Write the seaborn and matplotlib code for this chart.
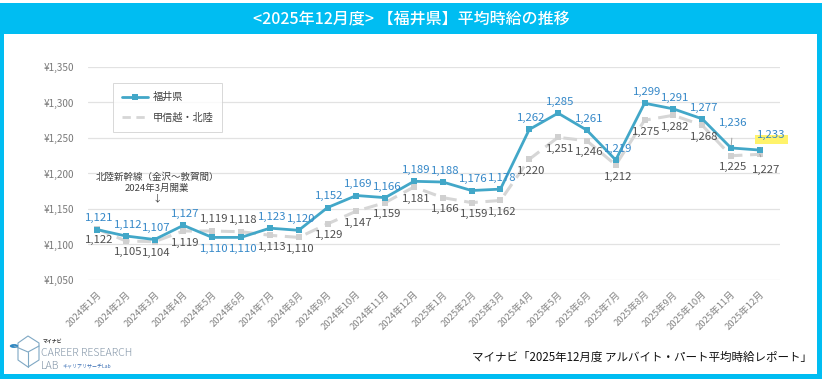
import matplotlib
matplotlib.use("Agg")
import matplotlib.pyplot as plt
import seaborn as sns
import pandas as pd
from matplotlib.patches import Rectangle, Circle, Polygon
from matplotlib.lines import Line2D

# ---------------- data ----------------
months = ["2024年1月", "2024年2月", "2024年3月", "2024年4月", "2024年5月", "2024年6月",
          "2024年7月", "2024年8月", "2024年9月", "2024年10月", "2024年11月", "2024年12月",
          "2025年1月", "2025年2月", "2025年3月", "2025年4月", "2025年5月", "2025年6月",
          "2025年7月", "2025年8月", "2025年9月", "2025年10月", "2025年11月", "2025年12月"]
fukui = [1121, 1112, 1107, 1127, 1110, 1110, 1123, 1120, 1152, 1169, 1166, 1189,
         1188, 1176, 1178, 1262, 1285, 1261, 1219, 1299, 1291, 1277, 1236, 1233]
koshinetsu = [1122, 1105, 1104, 1119, 1119, 1118, 1113, 1110, 1129, 1147, 1159, 1181,
              1166, 1159, 1162, 1220, 1251, 1246, 1212, 1275, 1282, 1268, 1225, 1227]
series_names = ["福井県", "甲信越・北陸"]
yticks = [1050, 1100, 1150, 1200, 1250, 1300, 1350]
title = "<2025年12月度> 【福井県】平均時給の推移"
note = "北陸新幹線（金沢～敦賀間）\n2024年3月開業\n↓"
source = "マイナビ「2025年12月度 アルバイト・パート平均時給レポート」"

# label placement (layout only): +1 above, -1 below
fukui_pos = [1, 1, 1, 1, -1, -1, 1, 1, 1, 1, 1, 1, 1, 1, 1, 1, 1, 1, 1, 1, 1, 1, 1, 1]
kosh_pos = [-1, -1, -1, -1, 1, 1, -1, -1, -1, -1, -1, -1, -1, -1, -1, -1, -1, -1, -1, -1, -1, -1, -1, -1]

BLUE = "#42A7C8"
BLUE_TXT = "#3588C8"
GRAY = "#D6D6D6"
GRAY_TXT = "#505050"
CYAN = "#00BDF2"
LBL = 8.2

sns.set_theme(style="white")
plt.rcParams['font.family'] = ['Noto Sans CJK JP', 'DejaVu Sans']

W, H = 822, 379
fig = plt.figure(figsize=(W / 100, H / 100), dpi=100)
fig.patch.set_facecolor("white")

def fx(px):
    return px / W

def fy(py):
    return 1 - py / H

# frame
fig.patches.append(Rectangle((0, 0), 1, 1, transform=fig.transFigure,
                             facecolor=CYAN, edgecolor="none", zorder=-10))
fig.patches.append(Rectangle((fx(4), fy(374)), fx(817) - fx(4), fy(34) - fy(374),
                             transform=fig.transFigure, facecolor="white",
                             edgecolor="none", zorder=-9))
fig.patches.append(Rectangle((0, fy(3)), 1, 1 - fy(3), transform=fig.transFigure,
                             facecolor="white", edgecolor="none", zorder=-9))
fig.text(0.5, fy(18.5), title, color="white", fontsize=11.5, ha="center", va="center",
         fontweight="medium")

# axes
ax = fig.add_axes([fx(88), fy(280), fx(780) - fx(88), fy(67) - fy(280)])
ax.set_facecolor("none")

df = pd.DataFrame({
    "idx": list(range(len(months))) * 2,
    "value": fukui + koshinetsu,
    "series": [series_names[0]] * len(months) + [series_names[1]] * len(months),
})

sns.lineplot(data=df[df.series == series_names[1]], x="idx", y="value", ax=ax,
             color=GRAY, linewidth=2.2, linestyle=(0, (4.5, 2.5)), marker="s",
             markersize=4, markeredgewidth=0, markerfacecolor="#D0D0D0",
             legend=False, zorder=3)
sns.lineplot(data=df[df.series == series_names[0]], x="idx", y="value", ax=ax,
             color=BLUE, linewidth=2.0, marker="s", markersize=5,
             markeredgewidth=0, markerfacecolor=BLUE, legend=False, zorder=4)

ax.set_xlim(-0.31, 23.7)
ax.set_ylim(1050, 1350)
ax.set_yticks(yticks)
ax.set_yticklabels([f"¥{v:,}" for v in yticks])
ax.set_xticks(range(len(months)))
ax.set_xticklabels(months, rotation=45, ha="right", rotation_mode="anchor")
ax.tick_params(axis="y", length=0, pad=10, labelsize=7.2, labelcolor="#7A7A7A")
ax.tick_params(axis="x", length=0, pad=7, labelsize=6.8, labelcolor="#858585")
ax.grid(axis="y", color="#E2E2E2", linewidth=0.9)
ax.grid(axis="x", visible=False)
for s in ax.spines.values():
    s.set_visible(False)
ax.set_xlabel("")
ax.set_ylabel("")

# data labels
for i, (v, p) in enumerate(zip(fukui, fukui_pos)):
    if i in (22, 23):
        continue
    ax.annotate(f"{v:,}", (i, v), xytext=(1.5, 8.0 * p), textcoords="offset points",
                ha="center", va="center", fontsize=LBL, color=BLUE_TXT, zorder=6)
for i, (v, p) in enumerate(zip(koshinetsu, kosh_pos)):
    if i == 23:
        continue
    ax.annotate(f"{v:,}", (i, v), xytext=(1.5, 8.3 * p), textcoords="offset points",
                ha="center", va="center", fontsize=LBL, color=GRAY_TXT, zorder=6)

# special labels with leader lines
ax.annotate(f"{fukui[22]:,}", (22, fukui[22]), xytext=(1.5, 18), textcoords="offset points",
            ha="center", va="center", fontsize=LBL, color=BLUE_TXT, zorder=6,
            arrowprops=dict(arrowstyle="-", color="#A0A0A0", lw=0.7, shrinkA=5, shrinkB=2))
ax.annotate(f"{fukui[23]:,}", (23, fukui[23]), xytext=(8.5, 10.8), textcoords="offset points",
            ha="center", va="center", fontsize=LBL, color=BLUE_TXT, zorder=6,
            arrowprops=dict(arrowstyle="-", color="#A0A0A0", lw=0.7, shrinkA=4, shrinkB=2))
# yellow highlight behind the latest value (fixed-size box relative to the point)
ax.annotate("\u2007" * 8, (23, fukui[23]), xytext=(8.5, 7.5), textcoords="offset points",
            ha="center", va="center", fontsize=4.5, color="none", zorder=5,
            bbox=dict(boxstyle="square,pad=0.05", fc="#FFF36B", ec="none"))
ax.annotate(f"{koshinetsu[23]:,}", (23, koshinetsu[23]), xytext=(4.5, -11.5),
            textcoords="offset points", ha="center", va="center", fontsize=LBL,
            color=GRAY_TXT, zorder=6,
            arrowprops=dict(arrowstyle="-", color="#A0A0A0", lw=0.7, shrinkA=4, shrinkB=2))

# shinkansen note
fig.text(fx(157), fy(188), note, ha="center", va="center", fontsize=6.8,
         color="#404040", linespacing=1.25)

# legend
handles = [
    Line2D([], [], color=BLUE, lw=2, marker="s", markersize=4, markeredgewidth=0),
    Line2D([], [], color=GRAY, lw=2, linestyle=(0, (3, 2))),
]
leg = ax.legend(handles, series_names, loc="upper left",
                bbox_to_anchor=(fx(113), fy(83)), bbox_transform=fig.transFigure,
                frameon=True, fancybox=False, edgecolor="#CFCFCF", fontsize=7.3,
                handlelength=2.6, labelspacing=1.0, borderpad=0.9,
                borderaxespad=0, handletextpad=0.4)
leg.get_frame().set_linewidth(0.7)
for t in leg.get_texts():
    t.set_color("#404040")
leg.set_zorder(10)

# logo (approximation)
fig.patches.append(Circle((fx(14), fy(346)), 4.2 / W, transform=fig.transFigure,
                          facecolor="#2E86C1", edgecolor="none"))
fig.add_artist(Polygon([(fx(18), fy(343)), (fx(28), fy(336)), (fx(39), fy(343)),
                        (fx(39), fy(360)), (fx(28), fy(367)), (fx(18), fy(360))],
                       closed=True, fill=False, edgecolor="#7FA8C4", lw=0.8,
                       transform=fig.transFigure))
fig.add_artist(Line2D([fx(14), fx(28), fx(39)], [fy(346), fy(352), fy(346)],
                      color="#7FA8C4", lw=0.8, transform=fig.transFigure))
fig.add_artist(Line2D([fx(28), fx(28)], [fy(352), fy(367)],
                      color="#7FA8C4", lw=0.8, transform=fig.transFigure))
fig.text(fx(43), fy(341), "マイナビ", fontsize=3.5, color="#333333", va="center",
         fontweight="bold")
fig.text(fx(41), fy(353), "CAREER RESEARCH", fontsize=7.6, color="#8496A8", va="center",
         fontweight="light")
fig.text(fx(41), fy(366), "LAB", fontsize=7.6, color="#8496A8", va="center",
         fontweight="light")
fig.text(fx(62), fy(366), "キャリアリサーチLab", fontsize=3.6, color="#3A6FB5", va="center")

# source
fig.text(fx(812), fy(357), source, ha="right", va="center", fontsize=8.3, color="#111111")

fig.savefig("out.png", dpi=100)
